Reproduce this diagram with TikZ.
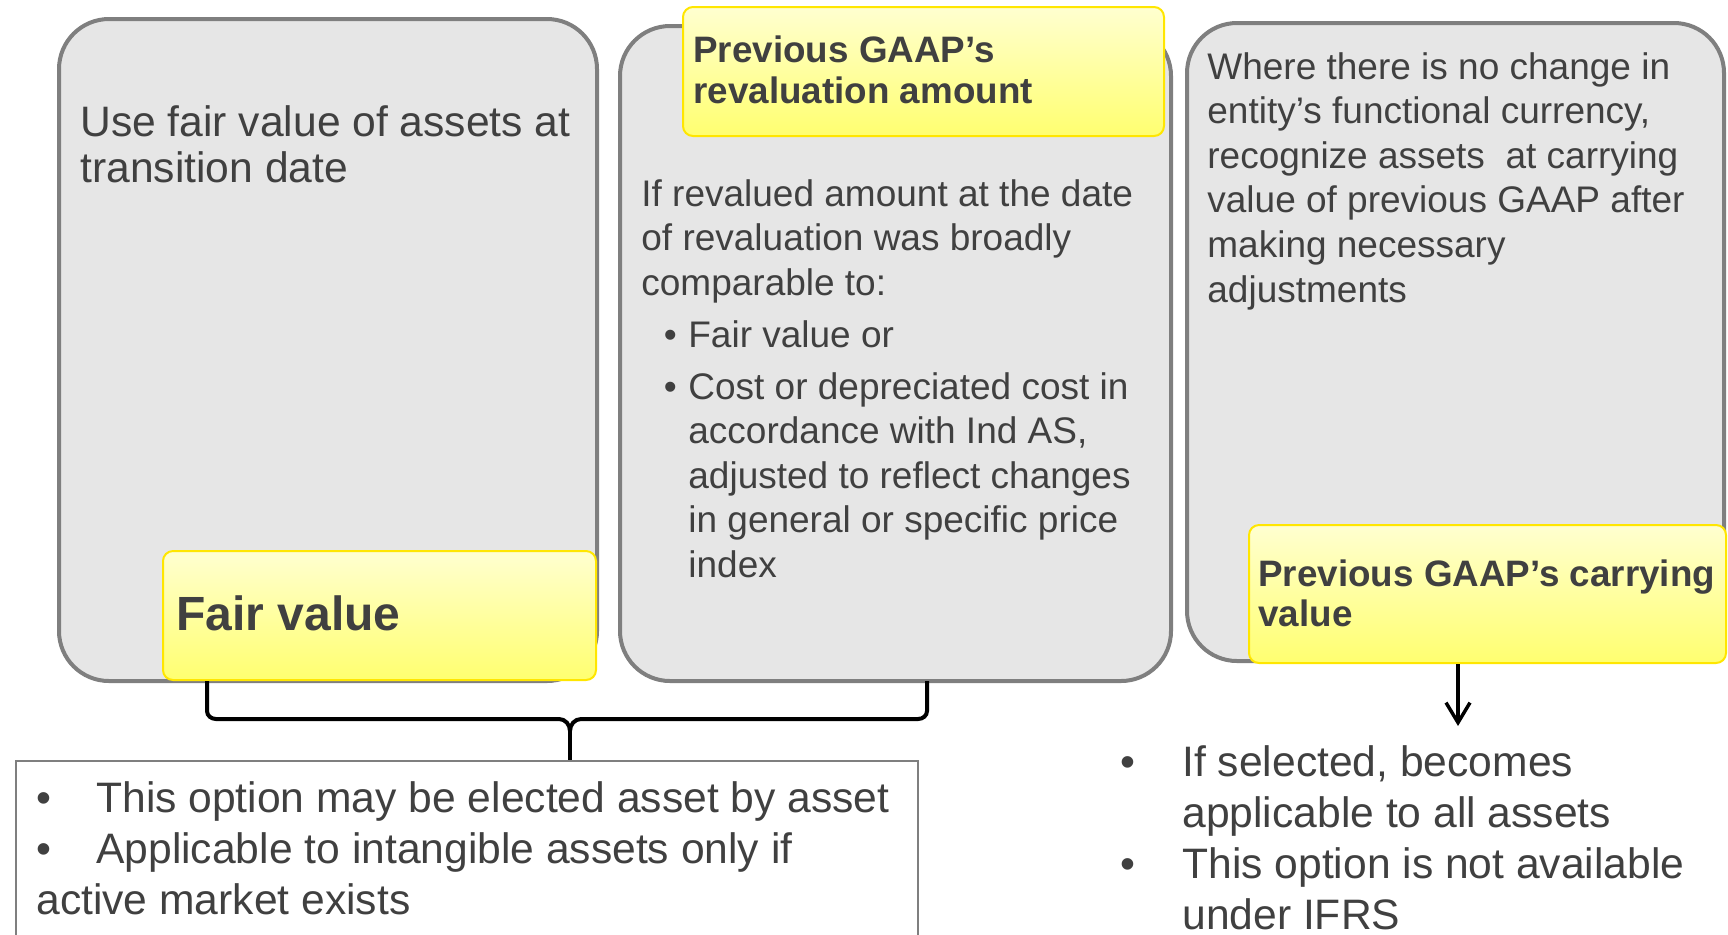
\documentclass[tikz,border=0pt]{standalone}
\usepackage{fontspec}
\setmainfont{Liberation Sans}
\usetikzlibrary{arrows.meta,positioning}

\definecolor{boxgray}{RGB}{230,230,230}
\definecolor{edgegray}{RGB}{127,127,127}
\definecolor{txtgray}{RGB}{64,64,64}
\definecolor{ylwtop}{RGB}{255,255,208}
\definecolor{ylwbot}{RGB}{255,255,112}
\definecolor{ylwedge}{RGB}{255,230,0}

\tikzset{
  graybox/.style={draw=edgegray,fill=boxgray,line width=2pt,rounded corners=25pt},
  ylwbox/.style={draw=ylwedge,line width=1pt,top color=ylwtop,bottom color=ylwbot,rounded corners=5pt},
  notebox/.style={draw=edgegray,fill=white,line width=1pt},
  txt/.style={inner sep=0pt,anchor=base west,align=left,text=txtgray},
  bigtxt/.style={txt,font=\fontsize{21.3pt}{23pt}\selectfont},
  bodytxt/.style={txt,font=\fontsize{18.5pt}{22.2pt}\selectfont},
  headtxt/.style={txt,font=\fontsize{18.4pt}{20.3pt}\selectfont\bfseries},
  listtxt/.style={txt,font=\fontsize{21.3pt}{25.4pt}\selectfont},
  bracketline/.style={line width=2pt,black},
}

\begin{document}
\begin{tikzpicture}[x=0.5pt,y=-0.5pt]
\useasboundingbox (0,0) rectangle (1728,934);

% three option boxes (text nodes sit on the baseline of their last line)
\node[graybox,minimum width=269pt,minimum height=331pt] (fairbox) at (328,350) {};
\node[ylwbox,minimum width=216.5pt,minimum height=64.5pt] (fvlabel) at (379.5,615.5) {};
\node[graybox,minimum width=275.5pt,minimum height=327.5pt] (revbox) at (895.5,353.5) {};
\node[ylwbox,minimum width=240.5pt,minimum height=64.5pt] (revlabel) at (923.5,71.5) {};
\node[graybox,minimum width=268.5pt,minimum height=319pt] (carrybox) at (1455.5,342) {};
\node[ylwbox,minimum width=238.5pt,minimum height=69pt] (carrylabel) at (1487.5,594) {};

% texts in the boxes
\node[bigtxt] (fairtxt) at (80,182) {Use fair value of assets at\\transition date};
\node[txt,font=\fontsize{24pt}{28pt}\selectfont\bfseries] (fvtxt) at (176,630) {Fair value};
\node[headtxt] (revhead) at (693,103) {Previous GAAP’s\\revaluation amount};
\node[bodytxt] (revtxt) at (641,295) {If revalued amount at the date\\of revaluation was broadly\\comparable to:};
\node[bodytxt] (revitemA) at (688,347) {\llap{\textbullet\hspace{5.75pt}}Fair value or};
\node[bodytxt] (revitemB) at (688,577) {\llap{\textbullet\hspace{5.75pt}}Cost or depreciated cost in\\accordance with Ind AS,\\adjusted to reflect changes\\in general or specific price\\index};
\node[bodytxt,font=\fontsize{18.5pt}{22.3pt}\selectfont] (carrytxt) at (1207,302) {Where there is no change in\\entity’s functional currency,\\recognize assets~ at carrying\\value of previous GAAP after\\making necessary\\adjustments};
\node[headtxt,font=\fontsize{18.4pt}{20pt}\selectfont\bfseries] (carryhead) at (1258,626) {Previous GAAP’s carrying\\value};

% bracket under the first two options
\node[notebox,minimum width=451pt,minimum height=99.5pt] (notes) at (467,860.5) {};
\coordinate (brL) at (207,681);
\coordinate (brR) at (927,681);
\coordinate (brTip) at (570,731);
\draw[bracketline] (brL) -- (207,711) to[out=-90,in=180] (216,719) -- (559,719) to[out=0,in=90] (brTip);
\draw[bracketline] (brR) -- (927,711) to[out=-90,in=0] (918,719) -- (581,719) to[out=180,in=90] (brTip);
\draw[bracketline] (brTip) -- (brTip |- notes.north);
\node[listtxt] (notestxt) at (36,914) {\textbullet\hspace{22.5pt}This option may be elected asset by asset\\\textbullet\hspace{22.5pt}Applicable to intangible assets only if\\active market exists};

% arrow from the carrying value label
\coordinate (arrEnd) at (1458,726);
\draw[line width=1.75pt,-{Straight Barb[length=10pt,width=12pt]}] (arrEnd |- carrylabel.south) -- (arrEnd);
\node[listtxt] (carrynotes) at (1182,929) {\llap{\textbullet\hspace{23.75pt}}If selected, becomes\\applicable to all assets\\\llap{\textbullet\hspace{23.75pt}}This option is not available\\under IFRS};
\end{tikzpicture}
\end{document}
